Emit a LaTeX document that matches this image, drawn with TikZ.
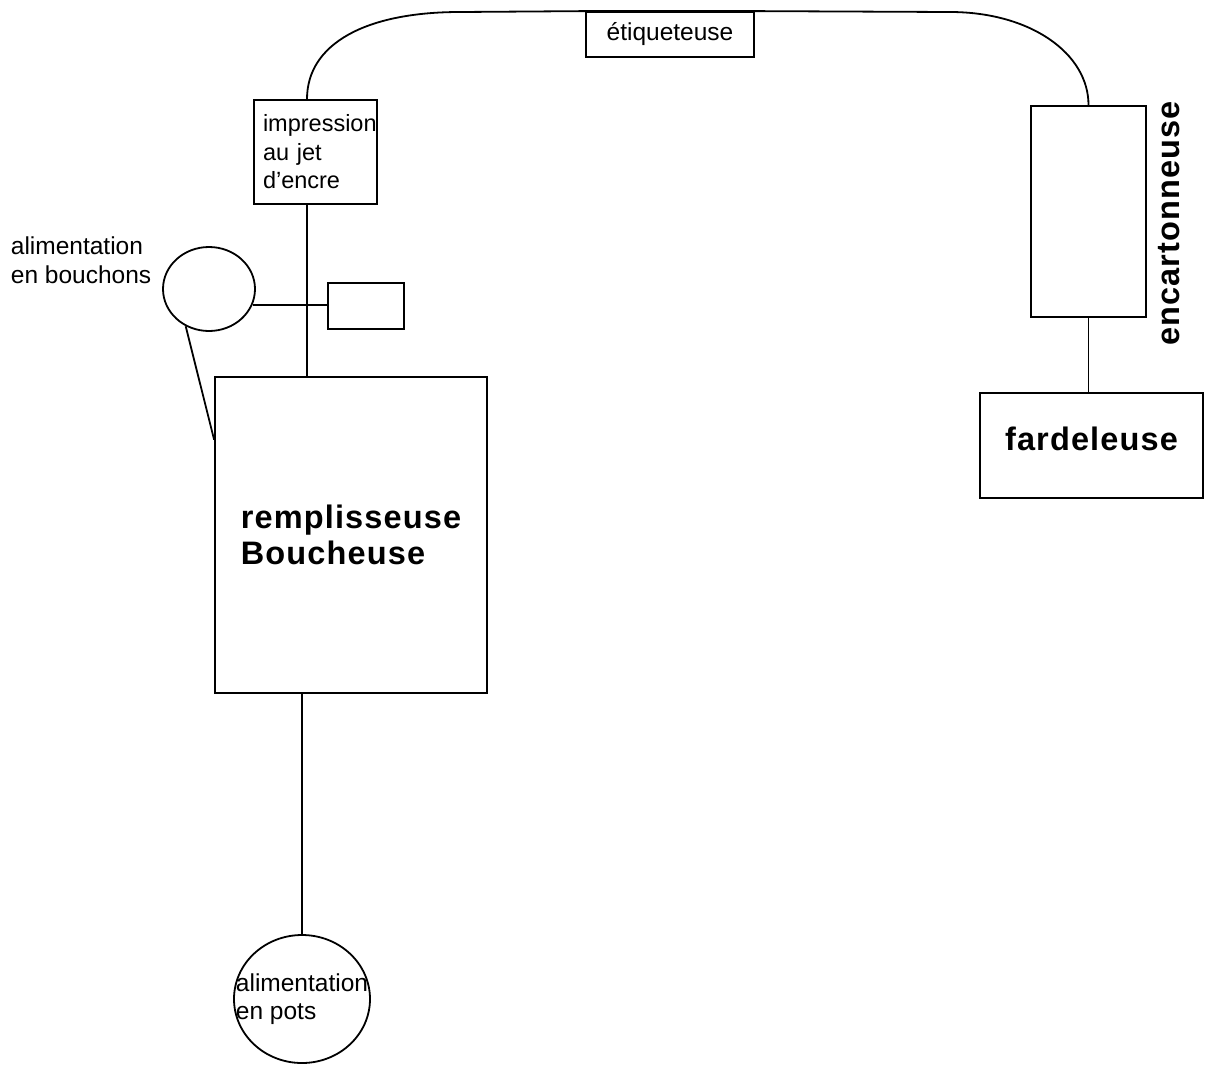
\documentclass[tikz,border=0pt]{standalone}
\usepackage{fontspec}
\setmainfont{Liberation Sans}
\newfontfamily\spacedfont[LetterSpace=3.5]{Liberation Sans}
\usetikzlibrary{shapes.geometric, positioning, calc}

\begin{document}
\begin{tikzpicture}[x=1pt, y=-1pt, line width=1.8pt,
    box/.style={draw, rectangle, inner sep=0pt},
    feed/.style={draw, ellipse, inner sep=0pt},
    smalltext/.style={font=\fontsize{24.5}{28.5}\selectfont, align=left},
    bigtext/.style={font=\spacedfont\bfseries\fontsize{32.5}{36}\selectfont, align=left}]
        \useasboundingbox (0,0) rectangle (1206,1066);

        \node[box, smalltext, minimum width=168, minimum height=45] (etiq) at (670,34.5) {étiqueteuse};
        \node[box, smalltext, font=\fontsize{23.5}{28.5}\selectfont, text width=105,
          minimum width=123, minimum height=104] (impr) at (315.5,152)
          {impression\\au jet\\d’encre};
        \node[feed, minimum width=92, minimum height=84] (bouch) at (209,289) {};
        \node[smalltext, anchor=north west, inner sep=0pt] (bouchlbl) at (10,236) {alimentation\\en bouchons};
        \node[box, minimum width=76, minimum height=46] (capbox) at (366,306) {};
        \node[box, bigtext, minimum width=272, minimum height=316] (rempl) at (351,535)
          {remplisseuse\\Boucheuse};
        \node[feed, smalltext, inner xsep=-18pt, minimum width=136, minimum height=128] (pots) at (302,999)
          {alimentation\\en pots};

        \node[box, minimum width=115, minimum height=211] (encart) at (1088.5,211.5) {};
        \node[bigtext, rotate=90, inner sep=0pt] (encartlbl) at (1169,223.5) {encartonneuse};
        \node[box, bigtext, text depth=13pt, minimum width=223, minimum height=105] (fard) at (1091.5,445.5)
          {fardeleuse};

        \coordinate (axis) at (307,0);
        \coordinate (topleft) at (460,12);
        \coordinate (topright) at (950,12);

        \draw (impr.north -| axis) .. controls +(0,-55) and +(-95,0) .. (topleft)
          -- (etiq.north west) -- (etiq.north east) -- (topright)
          .. controls +(80,0) and +(0,-52) .. (encart.north);
        \draw (impr.south -| axis) -- (rempl.north -| axis);
        \draw (bouch.-20) -- (bouch.-20 -| capbox.west);
        \draw (bouch.-122) -- ($(rempl.north west)!0.2!(rempl.south west)$);
        \draw (rempl.south -| pots.north) -- (pots.north);
        \draw (encart.south) -- (encart.south |- fard.north);

      \end{tikzpicture}
\end{document}
